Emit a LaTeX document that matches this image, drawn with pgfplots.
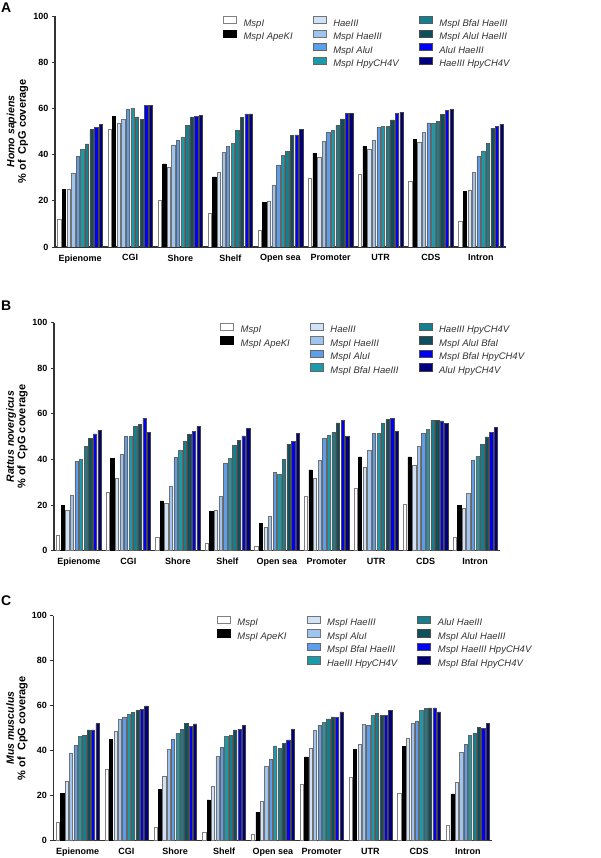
\documentclass[border=0pt]{standalone}
\usepackage{pgfplots}
\pgfplotsset{compat=1.18}
\usepackage{pgfplotstable}
\usepackage{fontspec}
\setmainfont{Liberation Sans}

\definecolor{cVL}{HTML}{CFE2F8}
\definecolor{cL}{HTML}{9FC4F0}
\definecolor{cM}{HTML}{5C9EEC}
\definecolor{cC}{HTML}{1B9AAA}
\definecolor{cT}{HTML}{12808F}
\definecolor{cD}{HTML}{0D4F5C}
\definecolor{cB}{HTML}{0000F5}
\definecolor{cN}{HTML}{00007F}

\pgfplotstableread{
x a b c d e f g h i j
0 12.0 24.8 24.8 32.1 39.3 42.2 44.6 50.8 51.7 53.1
1 51.1 56.5 53.7 55.4 59.7 60.1 56.3 55.4 61.4 61.4
2 20.4 36.0 34.7 44.2 46.3 47.6 52.5 56.3 56.7 57.1
3 14.8 30.4 32.4 40.9 43.5 45.0 50.5 56.1 57.6 57.6
4 7.1 19.4 19.6 26.9 35.5 39.6 41.4 48.3 48.5 50.9
5 29.6 40.6 38.7 45.8 49.6 50.6 52.8 55.5 57.7 57.8
6 31.7 43.6 42.2 46.3 51.9 52.2 52.1 55.0 58.0 58.3
7 28.5 46.6 45.5 49.5 53.7 53.5 54.5 57.3 59.3 59.6
8 11.2 24.0 24.6 32.4 39.3 41.6 45.0 51.5 52.2 53.2
}\dataA

\pgfplotstableread{
x a b c d e f g h i j
0 6.7 19.9 17.8 24.3 39.3 40.2 45.9 49.3 51.2 52.8
1 25.6 40.5 31.6 42.5 50.1 50.1 54.4 55.4 58.0 52.0
2 6.1 21.9 20.9 28.1 40.9 44.0 48.0 51.0 52.2 54.5
3 3.4 17.1 17.8 23.7 38.3 40.4 46.2 48.4 50.4 53.7
4 2.0 12.1 10.5 15.1 34.5 33.5 40.2 46.6 47.8 51.3
5 23.7 35.5 31.6 39.8 49.1 50.6 51.8 56.1 57.2 50.0
6 27.6 41.2 36.8 43.9 51.6 51.6 55.7 57.5 57.9 52.2
7 20.3 41.2 37.3 45.8 51.5 53.1 57.0 57.0 56.9 56.0
8 5.8 19.9 18.6 25.0 39.6 41.5 46.6 49.9 51.9 54.1
}\dataB

\pgfplotstableread{
x a b c d e f g h i j
0 8.0 21.1 26.2 39.0 42.4 46.5 46.8 49.2 49.3 52.0
1 31.9 45.0 48.5 53.8 54.8 56.2 57.1 57.8 58.4 59.9
2 6.1 22.7 28.8 40.6 45.0 47.7 49.6 52.0 50.8 51.9
3 3.6 18.1 24.3 37.5 41.6 46.5 46.8 49.3 49.5 51.1
4 2.7 12.6 17.6 33.1 36.2 42.1 41.0 43.1 44.8 49.5
5 24.9 37.2 41.0 49.2 51.4 52.6 54.1 55.0 54.7 57.3
6 28.3 40.6 42.7 51.6 51.3 55.6 56.7 55.6 55.7 57.9
7 21.1 41.8 45.6 52.0 53.2 57.8 58.7 59.0 59.0 57.3
8 6.7 20.8 26.0 39.4 42.7 46.8 47.9 50.2 49.8 52.2
}\dataC

\pgfplotsset{
  barleg/.style={legend image code/.code={\draw[##1,line width=0.6pt] (0pt,-0.3pt) rectangle (13pt,7pt);}},
  s1/.style={barleg, fill=white, draw=black!50, line width=0.5pt},
  s2/.style={barleg, fill=black, draw=black, line width=0.5pt},
  s3/.style={barleg, fill=cVL, draw=black!55, line width=0.5pt},
  s4/.style={barleg, fill=cL, draw=black!55, line width=0.5pt},
  s5/.style={barleg, fill=cM, draw=black!60, line width=0.5pt},
  s6/.style={barleg, fill=cC, draw=black!60, line width=0.5pt},
  s7/.style={barleg, fill=cT, draw=black!65, line width=0.5pt},
  s8/.style={barleg, fill=cD, draw=black!70, line width=0.5pt},
  s9/.style={barleg, fill=cB, draw=black!70, line width=0.5pt},
  s10/.style={barleg, fill=cN, draw=black!75, line width=0.5pt},
  panel/.style={
    scale only axis,
    axis x line*=bottom, axis y line*=left,
    axis line style={line width=1.2pt, draw=black!80},
    ybar=1.3pt, bar width=3.3pt,
    xmin=-0.5, xmax=8.5, ymin=0, ymax=100,
    xtick={0,...,8},
    xticklabels={Epienome,CGI,Shore,Shelf,Open sea,Promoter,UTR,CDS,Intron},
    x tick style={draw=none},
    xticklabel style={yshift=-1pt},
    ytick={0,20,40,60,80,100},
    y tick style={line width=0.8pt, draw=black!80},
    tick align=outside, major tick length=3pt,
    tick label style={font=\fontsize{9}{10}\selectfont\bfseries},
    /pgf/number format/assume math mode=true,
    legend columns=4, transpose legend,
    legend cell align=left,
    legend style={draw=none, fill=none, at={(0.372,1.0)}, anchor=north west,
      font=\fontsize{9.5}{10}\selectfont\itshape, text=black!80, inner sep=0pt,
      row sep=0pt,
      /tikz/every odd column/.append style={column sep=5pt},
      /tikz/every even column/.append style={column sep=18pt}},
    ylabel style={at={(axis description cs:-0.083,0.5)}, anchor=center, align=center,
      font=\fontsize{10.5}{11.5}\selectfont\bfseries},
  }
}
\newcommand{\ylab}[1]{\textit{#1}\\{\fontsize{11}{11.5}\selectfont\%\ of\ \ CpG\ coverage}}

\begin{document}
\begin{tikzpicture}
\useasboundingbox (0pt,0pt) rectangle (600pt,858pt);

\node[font=\fontsize{14}{14}\selectfont\bfseries, anchor=north west, inner sep=0pt] at (1pt,855pt) {A};
\node[font=\fontsize{14}{14}\selectfont\bfseries, anchor=north west, inner sep=0pt] at (1pt,557pt) {B};
\node[font=\fontsize{14}{14}\selectfont\bfseries, anchor=north west, inner sep=0pt] at (1pt,262pt) {C};

% Panel A
\begin{axis}[panel, at={(55pt,611pt)}, anchor=south west, width=451pt, height=231pt,
  ylabel={\ylab{Homo sapiens}}]
\addplot[s1] table[x=x,y=a]{\dataA}; \addlegendentry{MspI}
\addplot[s2] table[x=x,y=b]{\dataA}; \addlegendentry{MspI ApeKI}
\addlegendimage{empty legend}\addlegendentry{\mbox{}}
\addlegendimage{empty legend}\addlegendentry{\mbox{}}
\addplot[s3] table[x=x,y=c]{\dataA}; \addlegendentry{HaeIII}
\addplot[s4] table[x=x,y=d]{\dataA}; \addlegendentry{MspI HaeIII}
\addplot[s5] table[x=x,y=e]{\dataA}; \addlegendentry{MspI AluI}
\addplot[s6] table[x=x,y=f]{\dataA}; \addlegendentry{MspI HpyCH4V}
\addplot[s7] table[x=x,y=g]{\dataA}; \addlegendentry{MspI BfaI HaeIII}
\addplot[s8] table[x=x,y=h]{\dataA}; \addlegendentry{MspI AluI HaeIII}
\addplot[s9] table[x=x,y=i]{\dataA}; \addlegendentry{AluI HaeIII}
\addplot[s10] table[x=x,y=j]{\dataA}; \addlegendentry{HaeIII HpyCH4V}
\end{axis}

% Panel B
\begin{axis}[panel, at={(54pt,307.3pt)}, anchor=south west, width=446pt, height=228pt,
  ylabel={\ylab{Rattus novergicus}}]
\addplot[s1] table[x=x,y=a]{\dataB}; \addlegendentry{MspI}
\addplot[s2] table[x=x,y=b]{\dataB}; \addlegendentry{MspI ApeKI}
\addlegendimage{empty legend}\addlegendentry{\mbox{}}
\addlegendimage{empty legend}\addlegendentry{\mbox{}}
\addplot[s3] table[x=x,y=c]{\dataB}; \addlegendentry{HaeIII}
\addplot[s4] table[x=x,y=d]{\dataB}; \addlegendentry{MspI HaeIII}
\addplot[s5] table[x=x,y=e]{\dataB}; \addlegendentry{MspI AluI}
\addplot[s6] table[x=x,y=f]{\dataB}; \addlegendentry{MspI BfaI HaeIII}
\addplot[s7] table[x=x,y=g]{\dataB}; \addlegendentry{HaeIII HpyCH4V}
\addplot[s8] table[x=x,y=h]{\dataB}; \addlegendentry{MspI AluI BfaI}
\addplot[s9] table[x=x,y=i]{\dataB}; \addlegendentry{MspI BfaI HpyCH4V}
\addplot[s10] table[x=x,y=j]{\dataB}; \addlegendentry{AluI HpyCH4V}
\end{axis}

% Panel C
\begin{axis}[panel, at={(53.3pt,17.3pt)}, anchor=south west, width=439pt, height=225pt,
  ybar=1.2pt, bar width=3.2pt,
  ylabel={\ylab{Mus musculus}}]
\addplot[s1] table[x=x,y=a]{\dataC}; \addlegendentry{MspI}
\addplot[s2] table[x=x,y=b]{\dataC}; \addlegendentry{MspI ApeKI}
\addlegendimage{empty legend}\addlegendentry{\mbox{}}
\addlegendimage{empty legend}\addlegendentry{\mbox{}}
\addplot[s3] table[x=x,y=c]{\dataC}; \addlegendentry{MspI HaeIII}
\addplot[s4] table[x=x,y=d]{\dataC}; \addlegendentry{MspI AluI}
\addplot[s5] table[x=x,y=e]{\dataC}; \addlegendentry{MspI BfaI HaeIII}
\addplot[s6] table[x=x,y=f]{\dataC}; \addlegendentry{HaeIII HpyCH4V}
\addplot[s7] table[x=x,y=g]{\dataC}; \addlegendentry{AluI HaeIII}
\addplot[s8] table[x=x,y=h]{\dataC}; \addlegendentry{MspI AluI HaeIII}
\addplot[s9] table[x=x,y=i]{\dataC}; \addlegendentry{MspI HaeIII HpyCH4V}
\addplot[s10] table[x=x,y=j]{\dataC}; \addlegendentry{MspI BfaI HpyCH4V}
\end{axis}
\end{tikzpicture}
\end{document}
